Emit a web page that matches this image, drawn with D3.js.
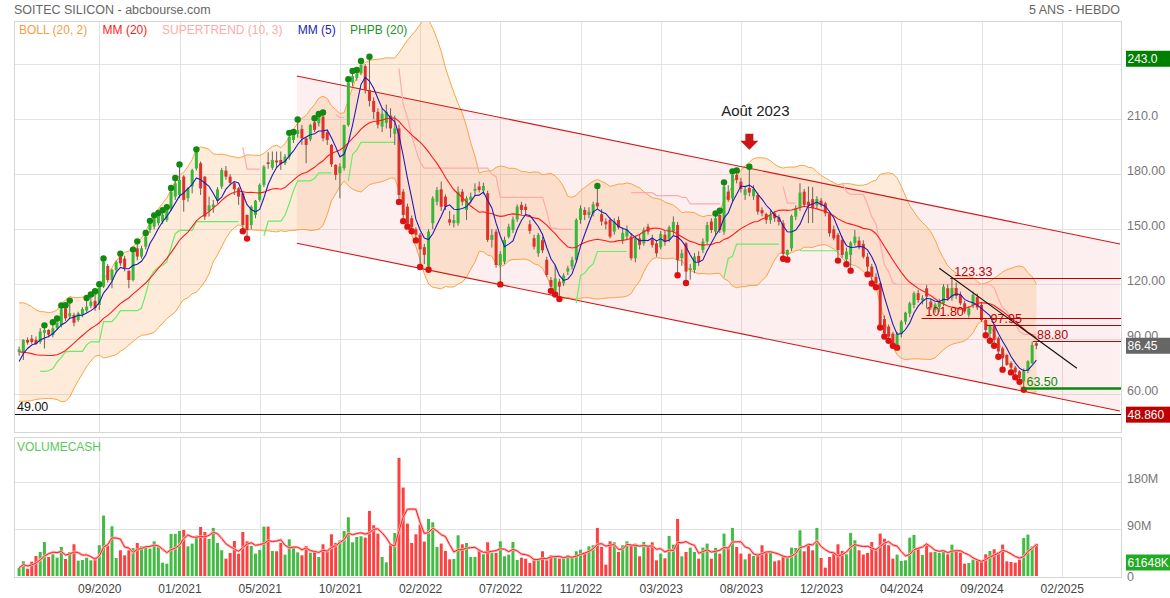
<!DOCTYPE html>
<html>
<head>
<meta charset="utf-8">
<title>SOITEC SILICON</title>
<style>
  body { margin: 0; background: #fff; }
  svg text { font-family: "Liberation Sans", Arial, sans-serif; }
</style>
</head>
<body>
<svg width="1170" height="598"></svg>
<script src="https://d3js.org/d3.v7.min.js"></script>
<script>

// weekly closes before the first visible bar (only used to seed the indicators)
var warmup = [90, 95, 98, 100, 99, 96, 95, 94, 93, 86, 75, 64, 58, 62, 66, 68, 74, 79, 83.5];

// weekly candles [open, high, low, close]
var ohlc = [
  [83.1,86,80.9,84.5],[82.4,90,78.7,89.6],[89.6,91,87,88.2],[90.3,92.3,87.5,88.5],[89.6,91.5,86.8,87.4],[88.5,96,87.5,94.2],
  [93.5,96.5,85,95],[95,95.5,91,92.5],[92.3,98.2,91,96],[96,100.2,95,99.1],[97.8,107.3,96.5,106.4],[106.9,107.5,100,101.4],
  [102.4,110,101,104.2],[103.3,104.5,97,99],[100.5,105,99.5,104.2],[103.3,107.5,102,106.5],[105.6,111.4,104.5,107.8],[108.2,113.3,107,110.5],
  [110.9,115.1,105.5,107],[108.7,118.9,106,118.2],[118.7,133,118,132.3],[130,131,121,122.3],[122.3,128.5,117.8,127.8],[127.8,133,126,132.2],
  [135,135.6,130,131.4],[134,135.5,127,128.7],[127.4,127.5,117.8,122.3],[122.3,137.8,121.5,136.9],[139.6,142.3,133,135.1],[135.1,141,134,139.6],
  [140.5,146.9,139,146],[149.6,153.5,148,153.3],[151.4,156.5,150,156],[153.3,157.8,152,157.3],[154.2,159.3,153,157.8],[155.1,161,154,160.5],
  [161.4,171.4,160,170.5],[167.8,176.9,166,175.1],[168.7,184.2,167,176.9],[178.7,179.5,159.6,166],[166.9,173,165,172.3],[173.3,183,169.6,182.3],
  [183.2,192.5,182,192.3],[186,187,168.7,172.3],[178.7,179,155.1,156.9],[160,167.8,156.9,163],[162,166,159,163.5],[165.6,173,164,171.8],
  [173.3,183.5,172,182.3],[182,184.5,177,178.7],[178.7,180,174,175.4],[175.1,176,168.7,171.8],[172.3,173,163.3,167.8],[169.6,171,150,152.3],
  [157.8,158,146,149.6],[152.3,163,150,162.3],[157.8,166,156,165.6],[166,175,165,174.2],[174.2,185,173,184.2],[186.5,192,183,185.6],
  [183.6,192.4,182.4,187.8],[187.5,192.4,183.5,186.5],[187.8,192.4,182.4,185.5],[186,191,185,189.6],[189.6,201.5,188,200.5],[198.7,202,197,201.5],
  [202,208.8,200,204],[204.7,206.9,196,199.6],[199.6,200,186,196],[199.1,207.5,198,206.9],[208.3,209.5,203,204.2],[207.8,211.8,206,211.4],
  [211.4,212.6,198,199.6],[202.9,203.5,196,198.7],[196,196.5,184,185.4],[185.1,185.5,176.9,179.6],[180.5,186,166.9,184.2],[183.3,207,182,206.9],
  [206.9,230.8,206,230],[230,235.3,228,233.5],[232.5,235.8,231,235],[235,240.7,234,239.6],[239,240,224,226],[226,243,217,220],
  [220,222,210,214],[214,216,205,207],[206,216,203,213],[208,218,205,214],[212,216,200,205],[202,212,196,205],
  [205,207,166,168.7],[170.5,172,155.5,157.8],[162.3,164,152.5,153],[156,157.5,150,151],[150,151,145,147],[147,148,130.5,139],
  [140.2,142,131,136],[129.6,150,129,148.7],[153.3,168,150,166.9],[165,173,163,171.4],[171.8,176,160,162.3],[167.8,169,160.5,162.3],
  [155.4,160,152,153.6],[153.3,158,151,155],[153.3,173.3,152,170.5],[170.5,172,163,165],[160.5,168,155,166.9],[166,170,164,167.8],
  [171,175,168,172],[173.3,176,170,171.4],[171.1,175.4,169,173.6],[169.6,171,143,144.2],[144.2,150,140,146.9],[148.7,150,129,130.5],
  [130.5,138,121,136.5],[132.3,146,131,144.2],[146,153,145,151.4],[149.6,157,148,155.4],[155.4,163.5,154,162.3],[163.3,165,158,160.5],
  [162.3,164,158,160.5],[152.7,155,147.5,149.1],[145.1,147,139,140.5],[136.9,148,135,146.9],[144,146,137,138.5],[133.3,135,124,125.1],
  [122.3,124,117.5,118.7],[116.4,130.5,115.5,123.2],[121.4,123,113,118.7],[120.5,126,119,124.7],[126.9,130,125,128.7],[129.6,135,128,133.3],
  [133.3,156,132,155.1],[155.1,163,153,161.4],[160.5,162,155,157.8],[157.8,162,156,159.6],[158.7,165,157,163.6],[164.5,172.5,161,162.5],
  [158.2,161,152,154.2],[154.2,156,150,152.7],[155.1,156.5,145,146],[148.7,156,147,154.2],[155,157,150,151],[144,151,142,148],
  [146,152,144,149.6],[146,148,133,134.2],[134.2,146,132,145.1],[145,147,139,141.5],[142.3,151,141,149.6],[151.4,153,147,148.7],
  [144.5,147,140,141.4],[142.3,144,135,136.9],[140.2,149,139,147.4],[147,149,141,143],[144.2,152,143,151.1],[149,157,147,154],
  [152.3,154,126,133.2],[134.2,139,130,136.9],[142.3,143,121.8,126.9],[127.8,131,122.5,128.7],[127.8,137,126,135.1],[135.4,138,130,132.3],
  [138.7,145,137,143.3],[143.3,154,142,152.3],[154.2,156,148,149.6],[148.7,157.5,147,156],[157.8,159,148,149.6],[148.7,174.5,147,173.3],
  [170.5,174,165,166],[166.9,180.5,165,179.6],[179.6,181,175,176.9],[176,178,170,172],[168.7,173,166,171.8],[172.5,183,168,170],
  [168,174,166,172],[168.7,170,158,159.6],[160.5,162,157,158.7],[158.3,159,153,155.1],[155,160,153,158],[158.7,160,154,156],
  [156.5,158,152,154],[153.3,155,135,136.5],[136,139,134.5,138.7],[139.6,158,138,157.3],[156.9,163,155,161.4],[162,175.1,160,170],
  [170.5,172,162,163.3],[165,173.3,153.3,163],[166.4,173,153.5,161.4],[163,168,161,166.5],[165.6,167,162,163.3],[164.2,165,157,158.7],
  [158.7,160,146,147.8],[150,152,144,145],[146.9,148,134,138.7],[144.2,146,134.5,136],[133.6,140,132,137.8],[136,143.5,128.5,142.7],
  [142.4,149.6,141,146],[143.8,146,139,140.5],[142,144,134,135],[135,137,126.5,129.6],[129.6,131,121.5,124],[124,126,119.5,120.5],
  [120.5,121,97.5,98],[101,103,92.6,93.3],[96.9,98,90.2,91.5],[93,94,87.5,88],[87,94,86.5,92.9],[93,100.5,91,99.6],
  [99.6,105,98,104.5],[104,110.5,102,109.6],[108.7,116,107,115.1],[115.1,117,110,111.4],[111.4,114,109,112.5],[117.8,119.6,107,113.3],
  [110.5,112,106,107.3],[106,110,104.5,109],[107.5,112,105,110.5],[109.6,120,108,118.7],[117.8,120,111,112.3],[112.7,123.3,111,118],
  [118,121,112,113.6],[114.2,116,108.5,109.6],[109.6,111,104,105.1],[103.3,108,101.8,106.9],[108.7,116,107,114.2],[113,115,106,107.3],
  [108.7,110,99.5,100.5],[100.5,101,93.3,95],[93,98,90.3,97.2],[97,98,87.5,89.5],[90.5,91.5,81.5,83.3],[85,86,74.5,79.6],
  [81.4,82,75.5,76],[77,78,73,74.5],[74.5,75.5,70.3,72],[72.5,73,67.9,69],[67,74,63.5,72.5],[72.8,78.5,71.5,78],
  [77,88.8,76.5,86.9],[87.8,88.8,84.5,86.45]
];

// weekly traded capital, millions of euros
var volumes = [
  15.4,28.1,14,27.5,38.3,46,65.1,36.4,41.5,35.1,55.6,32.6,46,60.7,29.4,30.7,35.1,30,36.4,58.8,
  115.6,58.8,95.1,34.5,49.2,39.6,49.2,53.7,63.2,56.8,56.8,52.4,66.4,55.6,25.5,23.6,80.5,80.5,86.2,88.1,
  56.8,62,77.3,93.9,84.3,70.9,92,63.2,49.2,33.2,44.1,67,42.8,84.3,66.4,57.5,42.8,49.8,94.5,94.5,
  47.9,47.3,63.2,40.9,70.2,55.6,45.3,39.6,57.5,44.7,47.3,36.4,60.7,49.2,79.8,63.2,68.3,86.2,112.4,64.5,
  74.7,76,73.4,124.5,97.1,81.1,36.4,26.2,60.7,82.4,226,169.2,100.2,63.2,79.8,98.3,65.8,109.2,102.8,55.6,
  62,47.9,31.9,32.6,77.9,60.7,63.2,36.4,36.4,49.2,41.5,64.5,44.1,44.1,66.4,37.7,40.9,65.1,30.7,35.1,
  33,24.9,33.2,31.3,47.3,30,39.6,37.7,33.2,33.2,40.3,35.1,47.3,50.4,46,56.8,58.8,92,55.6,21.7,
  66.4,64.5,46,58.8,66.4,60.7,62,37.7,65.1,58.8,64.5,30,42.8,33.9,76.6,60,109.2,37.7,46,54.3,
  46,33.2,54.3,62,33.2,53.7,42.8,81.1,55.6,92,55.6,42.8,31.9,42.8,38.3,42.8,58.8,47.3,44.7,28.1,
  30,39.6,37.7,54.3,53.7,87.5,47.3,60,49.2,92,34.5,16,36.4,42.8,60.7,47.9,41.5,82.4,68.3,49.2,
  40.9,44.1,65.1,52.4,81.1,71.5,58.8,33.2,40.9,28.7,30,73.4,78.5,54.3,40.3,60.7,45.3,46,44.1,46.6,
  41.5,60,49.2,44.7,23.6,24.9,31.3,30,30,41.5,47.9,51.1,46,60,28.1,26.8,25.5,31.3,72.8,79.2,
  56.8,61.648
];

var tickLabels = ["09/2020", "01/2021", "05/2021", "10/2021", "02/2022", "07/2022", "11/2022",
                  "03/2023", "08/2023", "12/2023", "04/2024", "09/2024", "02/2025"];
var tickStep = 19;

var priceTicks = [60, 90, 120, 150, 180, 210, 240];
var volumeTicks = [90, 180];

// drawn objects, in [bar index, price]
var channelTop = [[65.8, 233.6], [260.8, 142]];
var channelBottom = [[65.8, 142.4], [260.8, 50.9]];
var trendLine = [[218, 128.7], [250.6, 74.2]];
var levels = [
  { value: 123.33, from: 220.6, color: "#c00000" },
  { value: 101.80, from: 213.8, color: "#c00000" },
  { value: 97.95, from: 229.2, color: "#c00000" },
  { value: 88.80, from: 240.2, color: "#c00000" },
  { value: 63.50, from: 237.7, color: "#0a8a0a" }
];
var floorLevel = 49.0;
var channelFloor = 48.86;
var note = { text: "Août 2023", bar: 173 };

var svg = d3.select("svg");
var left = 14.5, right = 1121.5;
var pTop = 21, pBottom = 432, vTop = 437.5, vBottom = 577;

var x = d3.scaleLinear().domain([0, 247]).range([19.1, 1061.7]);
var y = d3.scaleLinear().domain([39.4, 263.6]).range([pBottom, pTop]);
var yv = d3.scaleLinear().domain([0, 264]).range([576, 438]);

var off = warmup.length;
var bars = ohlc.map(function (d, i) {
  return { i: i, o: d[0], h: d[1], l: d[2], c: d[3], v: volumes[i] };
});
var closesAll = warmup.concat(bars.map(function (d) { return d.c; }));
var highsAll = warmup.concat(bars.map(function (d) { return d.h; }));
var lowsAll = warmup.concat(bars.map(function (d) { return d.l; }));

function tail(arr, end, len) {
  return arr.slice(Math.max(0, end - len + 1), end + 1);
}

bars.forEach(function (d, i) {
  var e = i + off;
  var w = tail(closesAll, e, 20);
  var m = d3.mean(w);
  var sd = Math.sqrt(d3.mean(w, function (v) { return (v - m) * (v - m); }));
  d.mm20 = m;
  d.bUp = m + 2 * sd;
  d.bDn = m - 2 * sd;
  d.mm5 = d3.mean(tail(closesAll, e, 5));
  d.newHigh = d.h > d3.max(tail(highsAll, e - 1, 19));
  d.newLow = d.l < d3.min(tail(lowsAll, e - 1, 19));
  d.vma = d3.mean(tail(volumes, i, 5));
});

// supertrend (10, 3)
var trs = bars.map(function (d, i) {
  if (i === 0) return d.h - d.l;
  var pc = bars[i - 1].c;
  return Math.max(d.h - d.l, Math.abs(d.h - pc), Math.abs(d.l - pc));
});
var trend = 1, fu, fd;
bars.forEach(function (d, i) {
  var atr = d3.mean(tail(trs, i, 10));
  var hl2 = (d.h + d.l) / 2, bu = hl2 - 3 * atr, bd = hl2 + 3 * atr;
  if (i === 0) { fu = bu; fd = bd; }
  else {
    var pc = bars[i - 1].c;
    fu = pc > fu ? Math.max(bu, fu) : bu;
    fd = pc < fd ? Math.min(bd, fd) : bd;
  }
  if (trend === 1 && d.c < fu) trend = -1;
  else if (trend === -1 && d.c > fd) trend = 1;
  d.st = trend === 1 ? fu : fd;
  d.trend = trend;
});

// clip paths
var defs = svg.append("defs");
defs.append("clipPath").attr("id", "clipP").append("rect")
  .attr("x", left).attr("y", pTop).attr("width", right - left).attr("height", pBottom - pTop);
defs.append("clipPath").attr("id", "clipV").append("rect")
  .attr("x", left).attr("y", vTop).attr("width", right - left).attr("height", vBottom - vTop);

// header
svg.append("text").attr("x", 14).attr("y", 14).attr("font-size", 12.5).attr("fill", "#666")
  .text("SOITEC SILICON - abcbourse.com");
svg.append("text").attr("x", 1120).attr("y", 14).attr("font-size", 12.5).attr("fill", "#666")
  .attr("text-anchor", "end").text("5 ANS - HEBDO");

// grid
var grid = svg.append("g").attr("stroke", "#e3e3e3").attr("shape-rendering", "crispEdges");
d3.range(1, tickLabels.length + 1).forEach(function (k) {
  var gx = Math.round(x(k * tickStep)) + 0.5;
  grid.append("line").attr("x1", gx).attr("x2", gx).attr("y1", pTop).attr("y2", pBottom);
  grid.append("line").attr("x1", gx).attr("x2", gx).attr("y1", vTop).attr("y2", vBottom);
});
priceTicks.forEach(function (t) {
  var gy = Math.round(y(t)) + 0.5;
  grid.append("line").attr("x1", left).attr("x2", right).attr("y1", gy).attr("y2", gy);
});
volumeTicks.forEach(function (t) {
  var gy = Math.round(yv(t)) + 0.5;
  grid.append("line").attr("x1", left).attr("x2", right).attr("y1", gy).attr("y2", gy);
});

var P = svg.append("g").attr("clip-path", "url(#clipP)");

// channel
var chanPts = [channelTop[0], channelTop[1], channelBottom[1], channelBottom[0]];
P.append("path")
  .attr("d", "M" + chanPts.map(function (p) { return x(p[0]) + "," + y(p[1]); }).join("L") + "Z")
  .attr("fill", "rgba(240,120,120,0.12)");

// bollinger
P.append("path").datum(bars)
  .attr("d", d3.area().x(function (d) { return x(d.i); })
    .y0(function (d) { return y(d.bDn); }).y1(function (d) { return y(d.bUp); }))
  .attr("fill", "rgba(250,165,80,0.22)");
["bUp", "bDn"].forEach(function (k) {
  P.append("path").datum(bars)
    .attr("d", d3.line().x(function (d) { return x(d.i); }).y(function (d) { return y(d[k]); }))
    .attr("fill", "none").attr("stroke", "#f7a445").attr("stroke-width", 1);
});

[channelTop, channelBottom].forEach(function (ln) {
  P.append("line").attr("x1", x(ln[0][0])).attr("y1", y(ln[0][1]))
    .attr("x2", x(ln[1][0])).attr("y2", y(ln[1][1]))
    .attr("stroke", "#d01818").attr("stroke-width", 1.1);
});

// supertrend runs
var runs = [], cur = null;
bars.forEach(function (d) {
  if (d.i < 5) return;
  if (!cur || cur.trend !== d.trend) { cur = { trend: d.trend, pts: [] }; runs.push(cur); }
  cur.pts.push(d);
});
runs.forEach(function (r) {
  P.append("path").datum(r.pts)
    .attr("d", d3.line().x(function (d) { return x(d.i); }).y(function (d) { return y(d.st); }))
    .attr("fill", "none").attr("stroke", r.trend === 1 ? "#66ee66" : "#ffaaaa").attr("stroke-width", 1.2);
});

// candles
var cw = 3;
var candles = P.append("g").selectAll("g").data(bars).enter().append("g");
candles.append("line")
  .attr("x1", function (d) { return x(d.i); }).attr("x2", function (d) { return x(d.i); })
  .attr("y1", function (d) { return y(d.h); }).attr("y2", function (d) { return y(d.l); })
  .attr("stroke", "#6b6258").attr("stroke-width", 1);
candles.append("rect")
  .attr("x", function (d) { return x(d.i) - cw / 2; })
  .attr("width", cw)
  .attr("y", function (d) { return y(Math.max(d.o, d.c)); })
  .attr("height", function (d) { return Math.max(1, Math.abs(y(d.o) - y(d.c))); })
  .attr("fill", function (d) { return d.c >= d.o ? "#38b838" : "#e0302a"; });

// moving averages
P.append("path").datum(bars)
  .attr("d", d3.line().x(function (d) { return x(d.i); }).y(function (d) { return y(d.mm20); }))
  .attr("fill", "none").attr("stroke", "#ff1a1a").attr("stroke-width", 1.1);
P.append("path").datum(bars)
  .attr("d", d3.line().x(function (d) { return x(d.i); }).y(function (d) { return y(d.mm5); }))
  .attr("fill", "none").attr("stroke", "#1c1cc0").attr("stroke-width", 1.1);

// PHPB dots
P.append("g").selectAll("circle").data(bars.filter(function (d) { return d.newHigh; })).enter()
  .append("circle").attr("cx", function (d) { return x(d.i); }).attr("cy", function (d) { return y(d.h) - 2; })
  .attr("r", 3.2).attr("fill", "#108a10");
P.append("g").selectAll("circle").data(bars.filter(function (d) { return d.newLow; })).enter()
  .append("circle").attr("cx", function (d) { return x(d.i); }).attr("cy", function (d) { return y(d.l) + 2; })
  .attr("r", 3.2).attr("fill", "#dd1111");

// levels
levels.forEach(function (lv) {
  var ly = Math.round(y(lv.value)) + 0.5;
  P.append("line").attr("x1", x(lv.from)).attr("x2", right).attr("y1", ly).attr("y2", ly)
    .attr("stroke", lv.color).attr("stroke-width", lv.value === 63.5 ? 2.5 : 1.2);
  P.append("text").attr("x", x(lv.from) + 4).attr("y", ly - 3).attr("font-size", 12.5)
    .attr("fill", lv.color).text(lv.value.toFixed(2));
});
P.append("line").attr("x1", x(trendLine[0][0])).attr("y1", y(trendLine[0][1]))
  .attr("x2", x(trendLine[1][0])).attr("y2", y(trendLine[1][1]))
  .attr("stroke", "#111").attr("stroke-width", 1.1);

var fy = Math.round(y(floorLevel)) + 0.5;
P.append("line").attr("x1", left).attr("x2", right).attr("y1", fy).attr("y2", fy)
  .attr("stroke", "#111").attr("stroke-width", 1);
P.append("text").attr("x", 17).attr("y", fy - 4).attr("font-size", 12.5).attr("fill", "#111")
  .text(floorLevel.toFixed(2));

// annotation
var nb = bars[note.bar], ax = x(note.bar), ay = y(nb.h) - 19;
P.append("path")
  .attr("d", "M" + [[-4, -16], [4, -16], [4, -9], [9, -9], [0, 0], [-9, -9], [-4, -9]]
    .map(function (p) { return (ax + p[0]) + "," + (ay + p[1]); }).join("L") + "Z")
  .attr("fill", "#cc1515");
P.append("text").attr("x", ax + 6).attr("y", ay - 34).attr("text-anchor", "middle")
  .attr("font-size", 15).attr("fill", "#222").text(note.text);

// legend
var legend = [
  { t: "BOLL (20, 2)", c: "#f5a043", x: 19 },
  { t: "MM (20)", c: "#ff1a1a", x: 102.6 },
  { t: "SUPERTREND (10, 3)", c: "#ffaaaa", x: 162 },
  { t: "MM (5)", c: "#1c1cc0", x: 297.7 },
  { t: "PHPB (20)", c: "#1e941e", x: 350 }
];
legend.forEach(function (l) {
  svg.append("text").attr("x", l.x).attr("y", 34).attr("font-size", 12).attr("fill", l.c).text(l.t);
});

// volume
var V = svg.append("g").attr("clip-path", "url(#clipV)");
V.append("g").selectAll("rect").data(bars).enter().append("rect")
  .attr("x", function (d) { return x(d.i) - 1.5; }).attr("width", 3)
  .attr("y", function (d) { return yv(d.v); })
  .attr("height", function (d) { return yv(0) - yv(d.v); })
  .attr("fill", function (d) { return d.c >= d.o ? "#44bb44" : "#ff4040"; });
var vline = d3.line().x(function (d) { return x(d.i); }).y(function (d) { return yv(d.vma); });
V.append("path").datum(bars).attr("d", vline).attr("fill", "none")
  .attr("stroke", "#ffb0b0").attr("stroke-width", 2.6);
V.append("path").datum(bars).attr("d", vline).attr("fill", "none")
  .attr("stroke", "#ff2020").attr("stroke-width", 1);
svg.append("text").attr("x", 17).attr("y", 451).attr("font-size", 12).attr("fill", "#5cc85c").text("VOLUMECASH");

// panel borders
[[pTop, pBottom], [vTop, vBottom]].forEach(function (p) {
  svg.append("rect").attr("x", left).attr("y", p[0]).attr("width", right - left).attr("height", p[1] - p[0])
    .attr("fill", "none").attr("stroke", "#d6d6d6").attr("shape-rendering", "crispEdges");
});

// x axis
var xAxis = svg.append("g").attr("transform", "translate(0," + 577 + ")")
  .call(d3.axisBottom(x)
    .tickValues(tickLabels.map(function (t, k) { return (k + 1) * tickStep; }))
    .tickFormat(function (v) { return tickLabels[v / tickStep - 1]; })
    .tickSize(0).tickPadding(7));
xAxis.select(".domain").remove();
xAxis.selectAll("text").attr("font-size", 12).attr("fill", "#444")
  .style("font-family", "'Liberation Sans', Arial, sans-serif");

// right price axis
var fmt = { 60: "60.00", 90: "90.00", 120: "120.00", 150: "150.00", 180: "180.00", 210: "210.0" };
var yAxis = svg.append("g").attr("transform", "translate(1126,0)")
  .call(d3.axisRight(y).tickValues(priceTicks.filter(function (t) { return fmt[t]; }))
    .tickFormat(function (t) { return fmt[t]; }).tickSize(0).tickPadding(1));
yAxis.select(".domain").remove();
yAxis.selectAll("text").attr("font-size", 12.5).attr("fill", "#777").attr("dy", "0.05em")
  .style("font-family", "'Liberation Sans', Arial, sans-serif");

var vAxis = svg.append("g").attr("transform", "translate(1126,0)")
  .call(d3.axisRight(yv).tickValues([90, 180])
    .tickFormat(function (t) { return t + "M"; }).tickSize(0).tickPadding(1));
vAxis.select(".domain").remove();
vAxis.selectAll("text").attr("font-size", 12.5).attr("fill", "#777").attr("dy", "0.05em")
  .style("font-family", "'Liberation Sans', Arial, sans-serif");
svg.append("text").attr("x", 1127).attr("y", 581).attr("font-size", 12.5).attr("fill", "#777").text("0");

// value boxes
var last = bars[bars.length - 1];
var topHigh = d3.max(bars, function (d) { return d.h; });
var boxes = [
  { v: y(topHigh), t: topHigh.toFixed(1), c: "#008000" },
  { v: y(last.c), t: last.c.toFixed(2), c: "#666666" },
  { v: y(channelFloor), t: channelFloor.toFixed(3), c: "#c00000" },
  { v: 562.5, t: Math.round(last.v * 1000) + "K", c: "#22aa22" }
];
boxes.forEach(function (b) {
  svg.append("rect").attr("x", 1126).attr("y", b.v - 8).attr("width", 44).attr("height", 16).attr("fill", b.c);
  svg.append("text").attr("x", 1127.5).attr("y", b.v + 4.5).attr("font-size", 12).attr("fill", "#fff").text(b.t);
});

</script>
</body>
</html>
